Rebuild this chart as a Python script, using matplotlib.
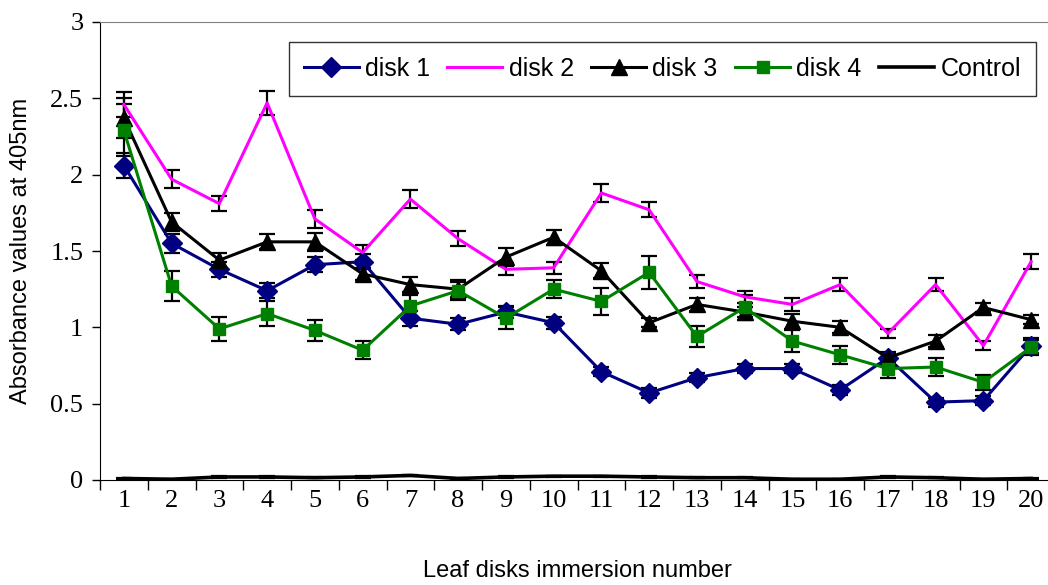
import matplotlib
matplotlib.use("Agg")
import matplotlib.pyplot as plt
import numpy as np
from matplotlib.ticker import FixedLocator, FuncFormatter

# ------------------------------------------------------------
# data
# ------------------------------------------------------------
immersion = list(range(1, 21))

disk1 = [2.06, 1.55, 1.38, 1.24, 1.41, 1.43, 1.06, 1.02, 1.10, 1.03,
         0.71, 0.57, 0.67, 0.73, 0.73, 0.59, 0.80, 0.51, 0.52, 0.88]
disk1_err = [0.08, 0.06, 0.05, 0.05, 0.05, 0.05, 0.05, 0.04, 0.04, 0.04,
             0.03, 0.03, 0.03, 0.03, 0.03, 0.03, 0.03, 0.03, 0.03, 0.05]

disk2 = [2.46, 1.97, 1.81, 2.47, 1.71, 1.49, 1.84, 1.58, 1.38, 1.39,
         1.88, 1.77, 1.30, 1.20, 1.15, 1.28, 0.96, 1.28, 0.88, 1.43]
disk2_err = [0.08, 0.06, 0.05, 0.08, 0.06, 0.05, 0.06, 0.05, 0.04, 0.04,
             0.06, 0.05, 0.04, 0.04, 0.04, 0.04, 0.03, 0.04, 0.03, 0.05]

disk3 = [2.37, 1.69, 1.44, 1.56, 1.56, 1.35, 1.28, 1.25, 1.46, 1.59,
         1.37, 1.03, 1.15, 1.10, 1.04, 1.00, 0.80, 0.91, 1.13, 1.05]
disk3_err = [0.13, 0.06, 0.05, 0.05, 0.06, 0.04, 0.05, 0.06, 0.06, 0.05,
             0.05, 0.03, 0.04, 0.03, 0.05, 0.04, 0.04, 0.04, 0.03, 0.03]

disk4 = [2.29, 1.27, 0.99, 1.09, 0.98, 0.85, 1.14, 1.24, 1.06, 1.25,
         1.17, 1.36, 0.94, 1.13, 0.91, 0.82, 0.73, 0.74, 0.64, 0.87]
disk4_err = [0.17, 0.10, 0.08, 0.08, 0.07, 0.06, 0.07, 0.06, 0.07, 0.06,
             0.09, 0.11, 0.07, 0.08, 0.07, 0.06, 0.06, 0.06, 0.05, 0.05]

control = [0.010, 0.005, 0.020, 0.020, 0.015, 0.020, 0.030, 0.010, 0.020, 0.025,
           0.025, 0.020, 0.015, 0.015, 0.005, 0.005, 0.020, 0.015, 0.005, 0.010]
control_err = [0.004] * 20

# ------------------------------------------------------------
# figure
# ------------------------------------------------------------
fig = plt.figure(figsize=(10.48, 5.85), dpi=100)
ax = fig.add_axes([100 / 1048, 105 / 585, 955 / 1048, 458 / 585])

serif = "Liberation Serif"
sans = "Liberation Sans"

eb = dict(ecolor="black", elinewidth=1.6, capsize=5.5, capthick=1.6)

ax.errorbar(immersion, disk1, yerr=disk1_err, color="#000080", lw=2.2,
            marker="D", ms=10, label="disk 1", **eb)
ax.errorbar(immersion, disk2, yerr=disk2_err, color="#FF00FF", lw=2.2,
            label="disk 2", **eb)
ax.errorbar(immersion, disk3, yerr=disk3_err, color="black", lw=2.2,
            marker="^", ms=11, label="disk 3", **eb)
ax.errorbar(immersion, disk4, yerr=disk4_err, color="#008000", lw=2.2,
            marker="s", ms=8, label="disk 4", **eb)
ax.errorbar(immersion, control, yerr=control_err, color="black", lw=2.6,
            label="Control", **eb)

ax.set_xlim(0.5, 20.5)
ax.set_ylim(0, 3)

# x: labels at the categories, tick marks between them
ax.set_xticks(immersion)
ax.xaxis.set_minor_locator(FixedLocator(np.arange(0.5, 21, 1)))
ax.tick_params(axis="x", which="major", length=0, pad=7)
ax.tick_params(axis="x", which="minor", length=7, width=1, direction="out")
ax.set_yticks(np.arange(0, 3.01, 0.5))
ax.yaxis.set_major_formatter(FuncFormatter(lambda v, p: f"{v:g}"))
ax.tick_params(axis="y", length=6, width=1, direction="out", pad=6)

for lbl in ax.get_xticklabels() + ax.get_yticklabels():
    lbl.set_fontfamily(serif)
    lbl.set_fontsize(19)

ax.spines["top"].set_color("#808080")
ax.spines["right"].set_visible(False)

ax.set_xlabel("Leaf disks immersion number", family=sans, fontsize=17, labelpad=35)
ax.set_ylabel("Absorbance values at 405nm", family=sans, fontsize=17, labelpad=13)

# legend: one row, square black frame
handles, labels = ax.get_legend_handles_labels()
handles = [h[0] for h in handles]
leg = fig.legend(handles, labels, ncol=5, loc="upper right",
                 bbox_to_anchor=(1036 / 1048, 1 - 42 / 585),
                 prop={"family": sans, "size": 18},
                 frameon=True, fancybox=False, edgecolor="black",
                 handlelength=2.2, handletextpad=0.25, columnspacing=0.7,
                 borderpad=0.6, borderaxespad=0)
leg.get_frame().set_linewidth(1.0)

fig.savefig("out.png", dpi=100)
